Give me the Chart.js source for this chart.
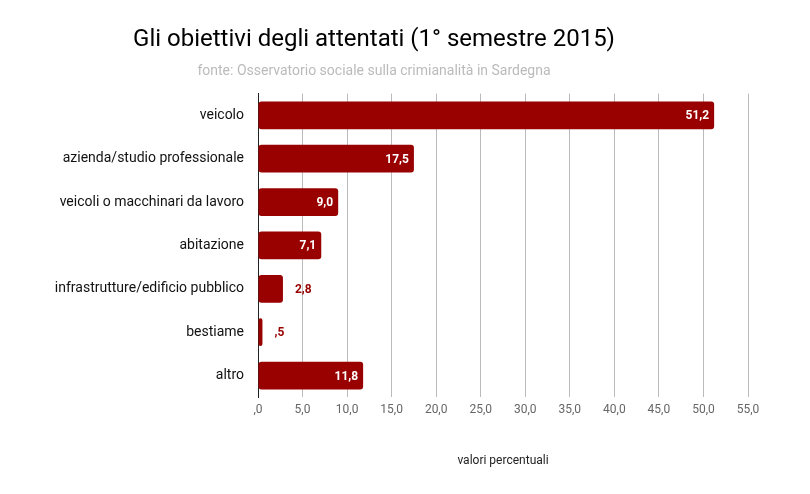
<!DOCTYPE html>
<html><head><meta charset="utf-8">
<script src="https://cdn.jsdelivr.net/npm/chart.js@4/dist/chart.umd.min.js"></script>
<style>html,body{margin:0;padding:0;background:#fff}#c{width:810px;height:494px}</style>
</head><body><div id="c"><canvas id="cv" width="810" height="494"></canvas></div>
<script>
const categories=["veicolo","azienda/studio professionale","veicoli o macchinari da lavoro","abitazione","infrastrutture/edificio pubblico","bestiame","altro"];
const values=[51.2,17.5,9.0,7.1,2.8,0.5,11.8];
const tickValues=[0,5,10,15,20,25,30,35,40,45,50,55];
const fmt=v=>{let s=v.toFixed(1).replace('.',',');return s.startsWith('0')?s.slice(1):s;};
const labelsPlugin={id:'lbl',afterDatasetsDraw(ch){
 const ctx=ch.ctx,meta=ch.getDatasetMeta(0);
 ctx.save();ctx.font='bold 12px Roboto';ctx.textBaseline='middle';
 meta.data.forEach((b,i)=>{const t=fmt(values[i]);const w=ctx.measureText(t).width;
  if(b.x-b.base>w+10){ctx.fillStyle='#fff';ctx.textAlign='right';ctx.fillText(t,b.x-5,b.y+1);}
  else{ctx.fillStyle='#990000';ctx.textAlign='left';ctx.fillText(t,b.x+12,b.y+1);}});
 ctx.restore();}};
new Chart(document.getElementById('cv'),{type:'bar',
data:{labels:categories,datasets:[{data:values,backgroundColor:'#990000',borderRadius:3,borderSkipped:false,barPercentage:0.64,categoryPercentage:1}]},
options:{indexAxis:'y',responsive:false,animation:false,devicePixelRatio:1,
layout:{padding:{left:0,right:62,top:0,bottom:22}},
plugins:{legend:{display:false},tooltip:{enabled:false},
 title:{display:true,text:'Gli obiettivi degli attentati (1° semestre 2015)',color:'#000',font:{family:'Roboto',size:24,weight:'normal'},padding:{top:26,bottom:8}},
 subtitle:{display:true,text:'fonte: Osservatorio sociale sulla crimianalità in Sardegna',color:'#bbb',font:{family:'Roboto',size:14},padding:{bottom:14}}},
scales:{
 x:{min:0,max:55,afterBuildTicks:s=>{s.ticks=tickValues.map(v=>({value:v}));},
  ticks:{callback:v=>fmt(v),color:'#666',font:{family:'Roboto',size:12},padding:6},
  grid:{color:'#bbb',drawTicks:false},border:{display:false},
  title:{display:true,text:'valori percentuali',color:'#222',font:{family:'Roboto',size:12},padding:{top:30}}},
 y:{afterFit:s=>{s.width=258;},ticks:{color:'#111',font:{family:'Roboto',size:14},padding:6},
  grid:{display:false},border:{display:true,color:'#222'}}}},
plugins:[labelsPlugin]});
</script></body></html>
